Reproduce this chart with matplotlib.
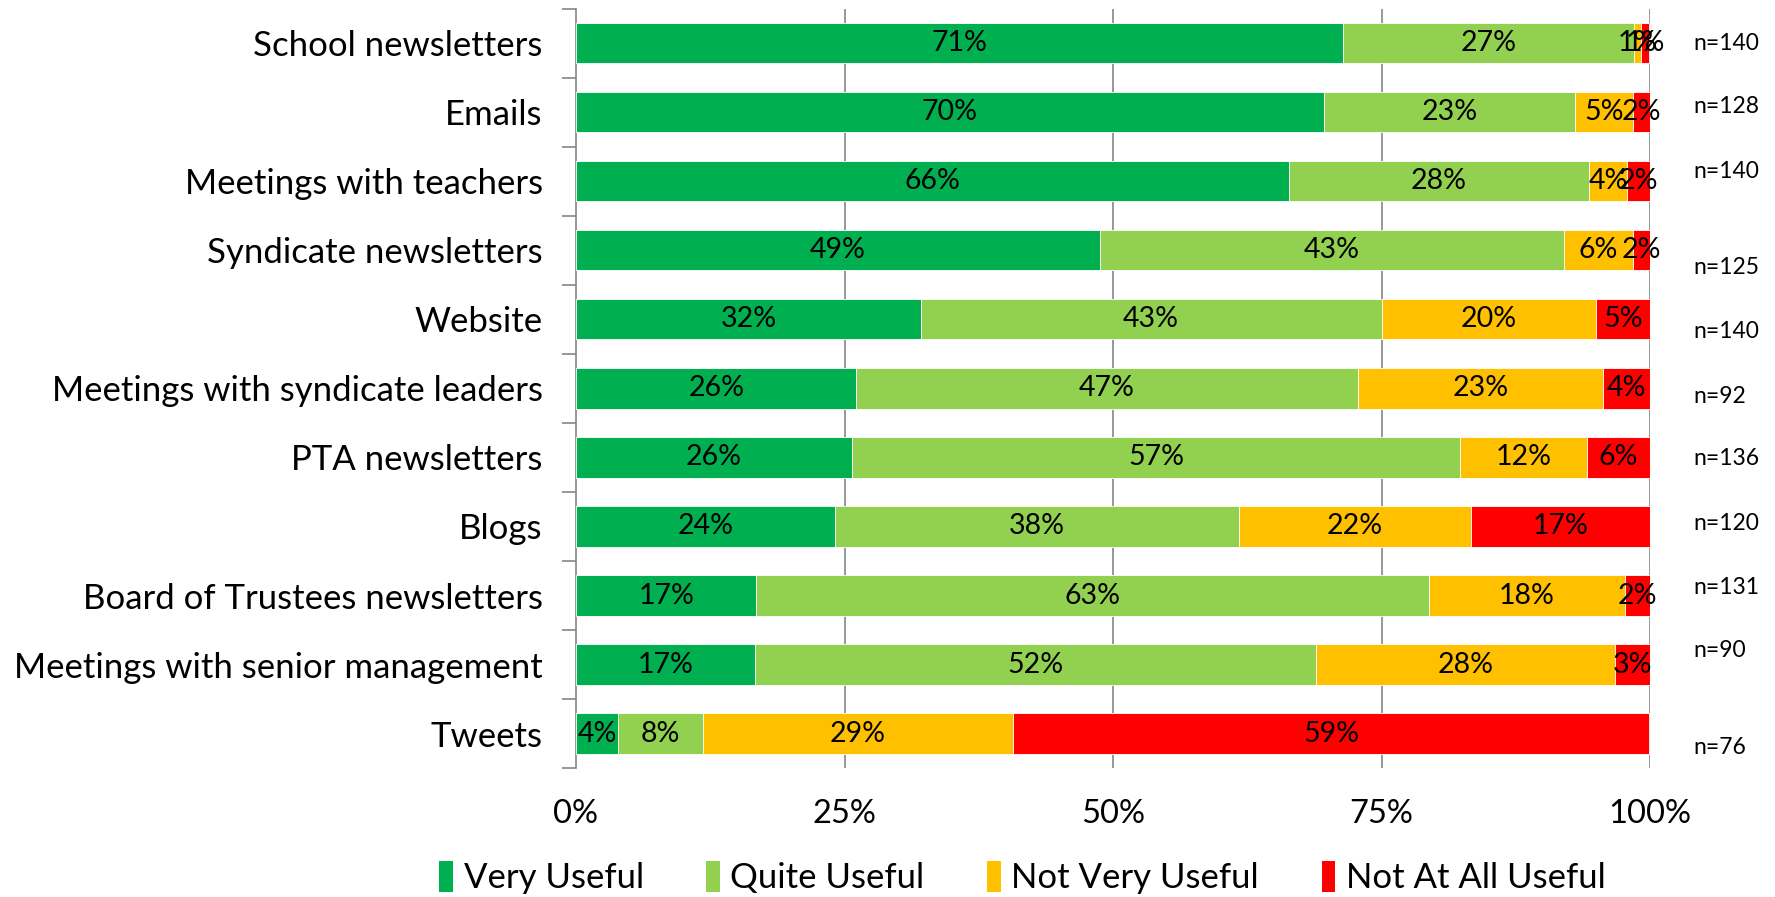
import matplotlib
matplotlib.use("Agg")
import matplotlib.pyplot as plt
from matplotlib.patches import Patch
import numpy as np

plt.rcParams['font.family'] = ['Lato', 'DejaVu Sans']

categories = ["School newsletters", "Emails", "Meetings with teachers", "Syndicate newsletters",
              "Website", "Meetings with syndicate leaders", "PTA newsletters", "Blogs",
              "Board of Trustees newsletters", "Meetings with senior management", "Tweets"]
series_names = ["Very Useful", "Quite Useful", "Not Very Useful", "Not At All Useful"]
very_useful = [71.4, 69.6, 66.4, 48.8, 32.1, 26.1, 25.7, 24.1, 16.8, 16.7, 3.9]
quite_useful = [27.1, 23.4, 27.9, 43.2, 42.9, 46.7, 56.6, 37.6, 62.6, 52.2, 7.9]
not_very_useful = [0.7, 5.4, 3.6, 6.4, 20.0, 22.8, 11.8, 21.6, 18.3, 27.8, 28.9]
not_at_all_useful = [0.7, 1.6, 2.1, 1.6, 5.0, 4.4, 5.9, 16.7, 2.3, 3.3, 59.2]
n_values = [140, 128, 140, 125, 140, 92, 136, 120, 131, 90, 76]
x_ticks = [0, 25, 50, 75, 100]
x_ticklabels = ["0%", "25%", "50%", "75%", "100%"]

colors = ["#00B050", "#92D050", "#FFC000", "#FF0000"]
n_offsets = [0.0, -0.08, -0.15, 0.24, 0.17, 0.11, 0.02, -0.05, -0.12, -0.2, 0.2]

fig = plt.figure(figsize=(17.75, 8.97), dpi=100)
ax = fig.add_axes([0.3245, 0.1438, 0.6051, 0.8462])

y = np.arange(len(categories))
left = np.zeros(len(categories))
for vals, col in zip([very_useful, quite_useful, not_very_useful, not_at_all_useful], colors):
    vals = np.array(vals)
    ax.barh(y, vals, left=left, height=0.58, color=col, edgecolor='white', linewidth=0.6, zorder=3)
    for yi, l, v in zip(y, left, vals):
        ax.text(l + v / 2, yi, f"{round(v):d}%", ha='center', va='center', fontsize=20.5, color='black', zorder=4)
    left = left + vals

ax.set_xlim(0, 100)
ax.set_ylim(len(categories) - 0.5, -0.5)
ax.set_xticks(x_ticks)
ax.set_xticklabels(x_ticklabels, fontsize=23.5)
ax.tick_params(axis='x', length=0, pad=22)
ax.set_yticks(y)
ax.set_yticklabels(categories, fontsize=25)
ax.set_yticks(np.arange(len(categories) + 1) - 0.5, minor=True)
ax.tick_params(axis='y', which='major', length=0, pad=24)
ax.tick_params(axis='y', which='minor', length=10, width=1.2, color='#868686')
for x in x_ticks[1:]:
    ax.axvline(x, color='#868686', linewidth=1.2, zorder=1)
for s in ['top', 'right', 'bottom']:
    ax.spines[s].set_visible(False)
ax.spines['left'].set_color('#868686')
ax.spines['left'].set_linewidth(1.2)

for yi, n, off in zip(y, n_values, n_offsets):
    ax.text(104, yi + off, f"n={n}", ha='left', va='center', fontsize=16.5, clip_on=False)

handles = [Patch(facecolor=c, edgecolor='none') for c in colors]
fig.legend(handles, series_names, loc='center', bbox_to_anchor=(0.576, 0.022), ncol=4,
           frameon=False, fontsize=25, handlelength=0.4, handleheight=1.0,
           handletextpad=0.3, columnspacing=1.8)

fig.savefig("out.png", dpi=100)
